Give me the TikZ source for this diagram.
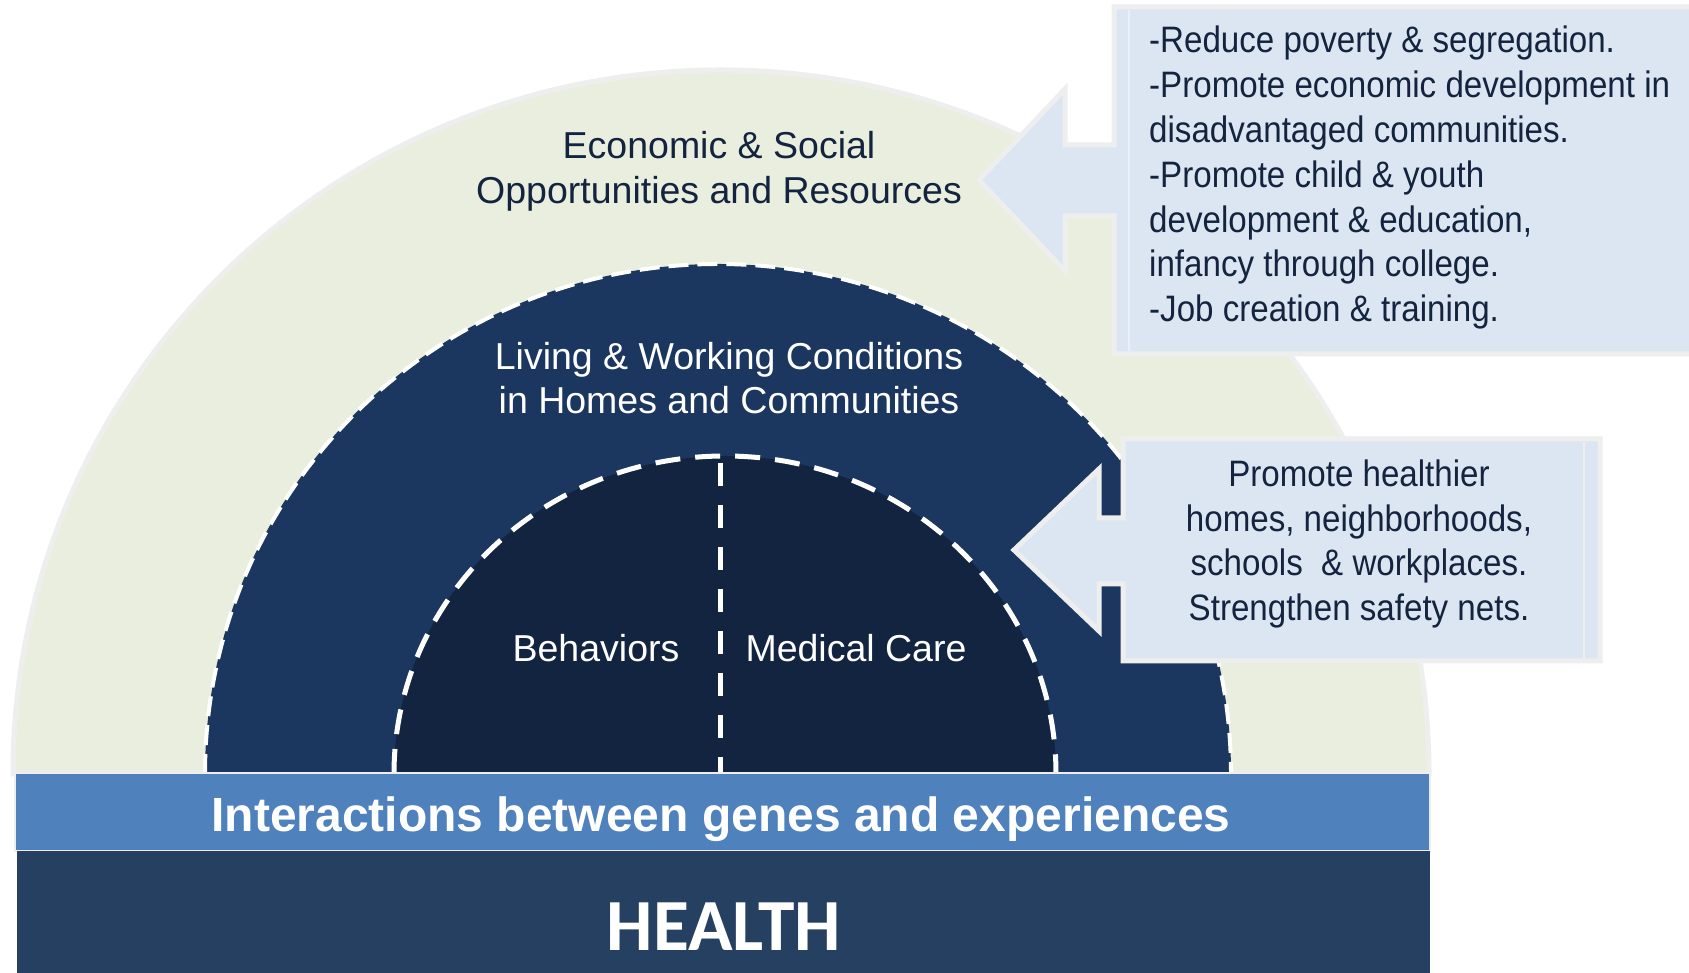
\documentclass[tikz,border=0pt]{standalone}
\usepackage{fontspec}
\setmainfont{Liberation Sans}
\newfontfamily\narrowfont[FakeStretch=0.9]{Liberation Sans}
\newfontfamily\healthfont{Carlito}
\definecolor{outergreen}{HTML}{EAEEDF}
\definecolor{bordergray}{HTML}{EEEEEE}
\definecolor{midblue}{HTML}{1B3760}
\definecolor{innerblue}{HTML}{12243F}
\definecolor{bandblue}{HTML}{4F81BD}
\definecolor{healthblue}{HTML}{264062}
\definecolor{calloutfill}{HTML}{DCE6F2}
\definecolor{darktext}{HTML}{14243F}
\tikzset{
  ringlabel/.style={inner sep=0pt, anchor=base, font=\fontsize{37.5}{45}\selectfont},
  calloutshape/.style={fill=calloutfill, draw=bordergray, line width=5pt, line join=miter},
  callouttext/.style={inner sep=0pt, text=darktext, font=\narrowfont\fontsize{36.8}{44}\selectfont},
}
\begin{document}
\begin{tikzpicture}[x=1pt,y=1pt]
\useasboundingbox (0,0) rectangle (1689,973);
\fill[white] (0,0) rectangle (1689,973);
\clip (0,0) rectangle (1689,973);

% outer ring
\filldraw[fill=outergreen, draw=bordergray, line width=5pt]
  (13,199) arc[start angle=180, end angle=0, x radius=708, y radius=704] -- cycle;

% middle ring
\fill[midblue] (205,199) arc[start angle=180, end angle=0, x radius=513, y radius=510] -- cycle;
\draw[white, line width=4pt, dash pattern=on 20pt off 9pt]
  (205,199) arc[start angle=180, end angle=0, x radius=513, y radius=510];

% inner half disc
\fill[innerblue] (394,199) arc[start angle=180, end angle=0, x radius=331, y radius=318] -- cycle;
\draw[white, line width=5pt, dash pattern=on 25pt off 15pt]
  (394,199) arc[start angle=180, end angle=0, x radius=331, y radius=318];
\draw[white, line width=5pt, dash pattern=on 23pt off 19pt] (720,510) -- (720,199);

% callout 1
\path[calloutshape] (1114,966) -- (1700,966) -- (1700,619) -- (1114,619) -- (1114,757)
  -- (1065,757) -- (1065,702) -- (979,793) -- (1065,884) -- (1065,828) -- (1114,828) -- cycle;
\draw[white!40!calloutfill, line width=1.5pt] (1129,963) -- (1129,622);

% callout 2
\path[calloutshape] (1123,534) -- (1600,534) -- (1600,312) -- (1123,312) -- (1123,389)
  -- (1099,389) -- (1099,342) -- (1014,423) -- (1099,504) -- (1099,455) -- (1123,455) -- cycle;
\draw[bordergray, line width=2pt] (1584,531) -- (1584,315);

% bottom bars
\filldraw[fill=bandblue, draw=bordergray, line width=2pt] (15,200) rectangle (1430,122);
\fill[healthblue] (17,122) rectangle (1430,-5);

% ring labels
\node[ringlabel, text=darktext] (econ1) at (719,814) {Economic \& Social};
\node[ringlabel, text=darktext] (econ2) at (719,769) {Opportunities and Resources};
\node[ringlabel, text=white] (living1) at (729,603) {Living \& Working Conditions};
\node[ringlabel, text=white] (living2) at (729,559) {in Homes and Communities};
\node[ringlabel, text=white] (behav) at (596,311) {Behaviors};
\node[ringlabel, text=white] (medcare) at (856,311) {Medical Care};

% band texts
\node[inner sep=0pt, anchor=base, text=white, font=\bfseries\fontsize{48}{56}\selectfont]
  (genes) at (721,141) {Interactions between genes and experiences};
\node[inner sep=0pt, text=white, font=\healthfont\bfseries\fontsize{73.5}{80}\selectfont]
  (health) at (724,46) {HEALTH};

% callout 1 text
\foreach \t [count=\i] in {{-Reduce poverty \& segregation.},
  {-Promote economic development in},
  {disadvantaged communities.},
  {-Promote child \& youth},
  {development \& education,},
  {infancy through college.},
  {-Job creation \& training.}}
  \node[callouttext, anchor=base west] (cA\i) at (1149,{920-(\i-1)*44.8}) {\t};

% callout 2 text
\foreach \t [count=\i] in {{Promote healthier},
  {homes, neighborhoods,},
  {schools\ \ \& workplaces.},
  {Strengthen safety nets.}}
  \node[callouttext, anchor=base] (cB\i) at (1359,{486-(\i-1)*44.4}) {\t};
\end{tikzpicture}
\end{document}
